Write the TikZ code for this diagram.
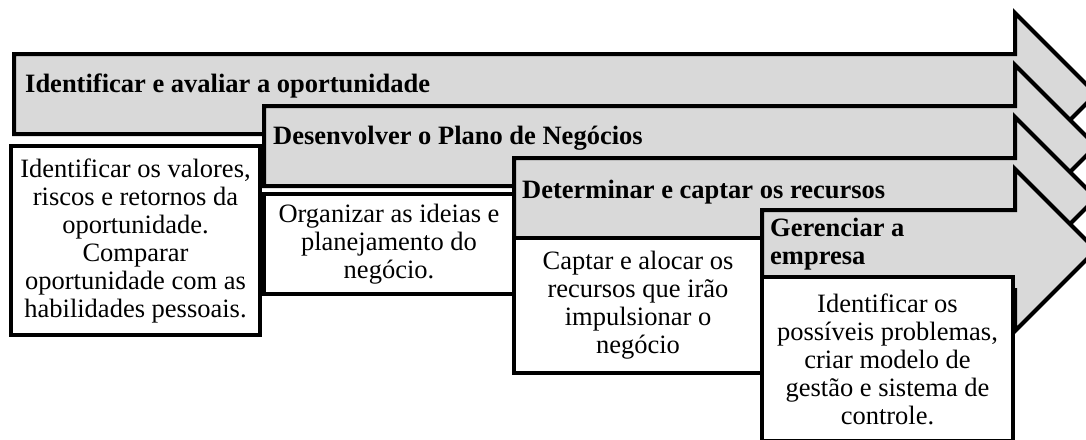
\documentclass[tikz,border=0pt]{standalone}
\usepackage{fontspec}
\setmainfont{Liberation Serif}
\usepackage{tikz}

\begin{document}
\begin{tikzpicture}[x=1pt, y=-1pt,
		seta/.style={fill=black!15, draw=black, line width=4pt},
		caixa/.style={draw=black, fill=white, line width=4pt, anchor=north west, outer sep=0pt, inner sep=0pt, align=center, font=\fontsize{26.5}{28}\selectfont},
		titulo/.style={anchor=west, inner sep=0pt, align=left, font=\bfseries\fontsize{26.5}{28}\selectfont}]
			\useasboundingbox (0, 0) rectangle (1086, 439);
			\clip (0, 0) rectangle (1086, 439);
			% setas das quatro etapas
			\foreach \xa/\yc in {14/94, 264/146, 514/198, 762/250}
				\filldraw[seta] (\xa, \yc-40) -- (1015, \yc-40) -- (1015, \yc-81) -- (1096, \yc) -- (1015, \yc+81) -- (1015, \yc+40) -- (\xa, \yc+40) -- cycle;
			\node[titulo] (etapa1) at (25, 86) {Identificar e avaliar a oportunidade};
			\node[titulo] (etapa2) at (273, 138) {Desenvolver o Plano de Negócios};
			\node[titulo] (etapa3) at (522, 192) {Determinar e captar os recursos};
			\node[titulo] (etapa4) at (770, 244) {Gerenciar a\\empresa};
			% caixas de descricao
			\node[caixa, minimum width=249, minimum height=189] (desc1) at (11, 146) {Identificar os valores,\\riscos e retornos da\\oportunidade.\\Comparar\\oportunidade com as\\habilidades pessoais.};
			\node[caixa, minimum width=250, minimum height=100] (desc2) at (264, 194) {Organizar as ideias e\\planejamento do\\negócio.};
			\node[caixa, minimum width=248, minimum height=135] (desc3) at (514, 238) {Captar e alocar os\\recursos que irão\\impulsionar o\\negócio};
			\node[caixa, minimum width=251, minimum height=164] (desc4) at (762, 277) {Identificar os\\possíveis problemas,\\criar modelo de\\gestão e sistema de\\controle.};
		\end{tikzpicture}
\end{document}
